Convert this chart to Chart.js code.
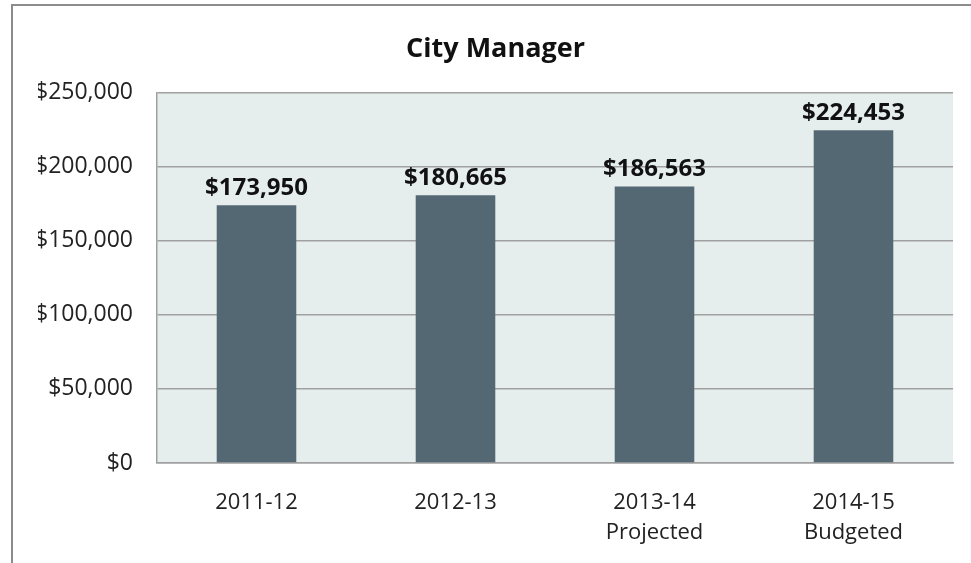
<!DOCTYPE html>
<html>
<head>
<meta charset="utf-8">
<script src="https://cdn.jsdelivr.net/npm/chart.js@4/dist/chart.umd.min.js"></script>
<style>
  html, body { margin: 0; padding: 0; background: #ffffff; }
  #wrap { position: relative; width: 971px; height: 563px; }
  #frame { position: absolute; left: 11px; top: 4px; right: 0; bottom: 0;
           border-left: 2px solid #8c8c8c; border-top: 2px solid #8c8c8c; pointer-events: none; }
  canvas { position: absolute; left: 0; top: 0; }
</style>
</head>
<body>
<div id="wrap">
  <canvas id="chart" width="971" height="563"></canvas>
  <div id="frame"></div>
</div>
<script>
// Budget by fiscal year
const categories = [['2011-12'], ['2012-13'], ['2013-14', 'Projected'], ['2014-15', 'Budgeted']];
const amounts = [173950, 180665, 186563, 224453];
const yTicks = [0, 50000, 100000, 150000, 200000, 250000];

const FONT = '"Open Sans", "Noto Sans", sans-serif';
const money = v => '$' + v.toLocaleString('en-US');

// Light plot-area fill behind the bars
const plotFill = {
  id: 'plotFill',
  beforeDraw(chart) {
    const { ctx, chartArea: a } = chart;
    ctx.save();
    ctx.fillStyle = '#e6eeed';
    ctx.fillRect(a.left, a.top, a.right - a.left, a.bottom - a.top);
    ctx.restore();
  }
};

// Value labels above each bar
const valueLabels = {
  id: 'valueLabels',
  afterDatasetsDraw(chart) {
    const { ctx } = chart;
    const meta = chart.getDatasetMeta(0);
    ctx.save();
    ctx.font = 'bold 24px ' + FONT;
    ctx.fillStyle = '#111111';
    ctx.textAlign = 'center';
    ctx.textBaseline = 'bottom';
    meta.data.forEach((bar, i) => {
      ctx.fillText(money(amounts[i]), bar.x, bar.y - 5);
    });
    ctx.restore();
  }
};

new Chart(document.getElementById('chart'), {
  type: 'bar',
  data: {
    labels: categories,
    datasets: [{
      data: amounts,
      backgroundColor: '#546874',
      borderWidth: 0,
      categoryPercentage: 1,
      barPercentage: 0.4
    }]
  },
  options: {
    responsive: false,
    animation: false,
    events: [],
    layout: { padding: { left: 38, right: 18, top: 18, bottom: 18 } },
    plugins: {
      legend: { display: false },
      tooltip: { enabled: false },
      title: {
        display: true,
        text: 'City Manager',
        color: '#111111',
        font: { family: FONT, size: 27, weight: 'bold', lineHeight: 1.2 },
        padding: { top: 15, bottom: 27 }
      }
    },
    scales: {
      x: {
        afterFit(scale) { scale.height = 82; },
        grid: { display: false, drawTicks: false },
        border: { display: true, color: '#a0a0a0', width: 1.5 },
        ticks: {
          color: '#222222',
          padding: 25,
          font: { family: FONT, size: 22, lineHeight: 1.36 },
          maxRotation: 0
        }
      },
      y: {
        min: 0,
        max: 250000,
        afterBuildTicks(scale) { scale.ticks = yTicks.map(v => ({ value: v })); },
        afterFit(scale) { scale.width = 119; },
        grid: { color: '#a0a0a0', lineWidth: 1.5, drawTicks: false },
        border: { display: true, color: '#a0a0a0', width: 1.5 },
        ticks: {
          color: '#222222',
          padding: 24,
          font: { family: FONT, size: 23 },
          callback: v => money(v)
        }
      }
    }
  },
  plugins: [plotFill, valueLabels]
});
</script>
</body>
</html>
